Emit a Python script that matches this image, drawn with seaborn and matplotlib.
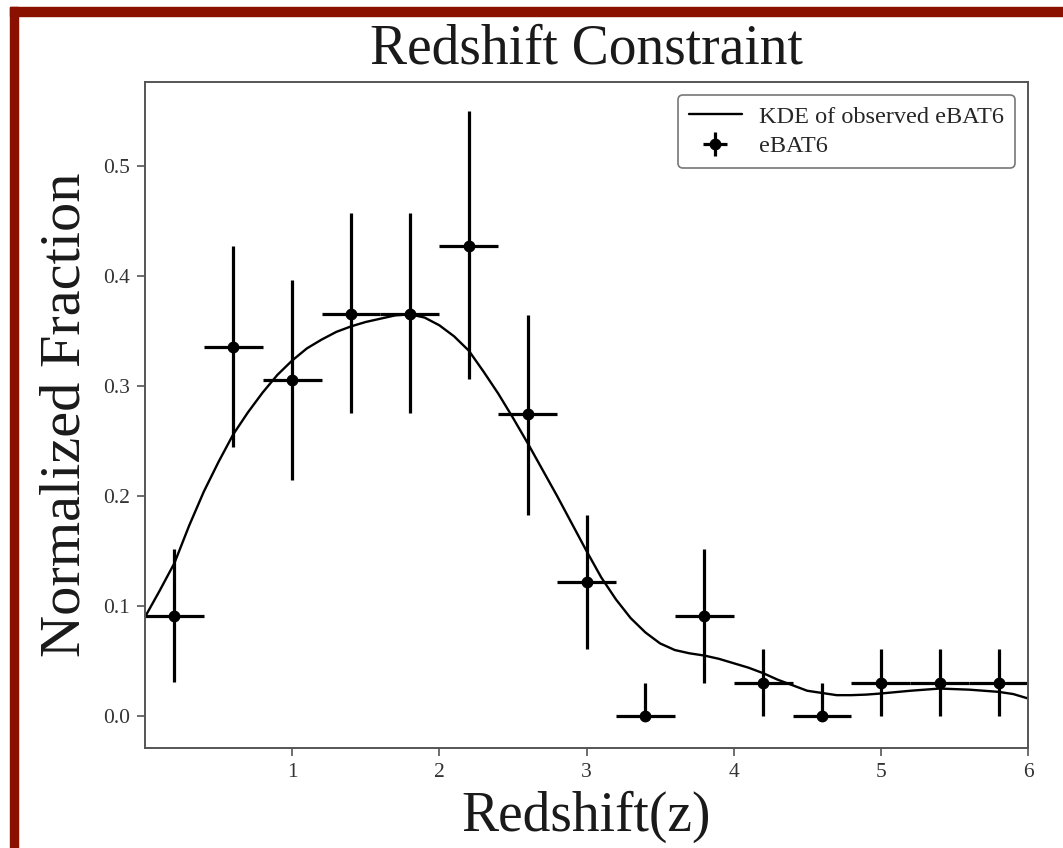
import numpy as np
import pandas as pd
import matplotlib
matplotlib.use("Agg")
import matplotlib.pyplot as plt
from matplotlib.patches import Rectangle
import seaborn as sns

# ---- data ----
bin_centers = [0.2, 0.6, 1.0, 1.4, 1.8, 2.2, 2.6, 3.0, 3.4, 3.8, 4.2, 4.6, 5.0, 5.4, 5.8]
fractions = [0.091, 0.335, 0.305, 0.365, 0.365, 0.427, 0.274, 0.122, 0.0, 0.091, 0.030, 0.0, 0.030, 0.030, 0.030]
err_low = [0.060, 0.091, 0.091, 0.090, 0.090, 0.121, 0.091, 0.061, 0.0, 0.061, 0.030, 0.0, 0.030, 0.030, 0.030]
err_high = [0.061, 0.092, 0.091, 0.092, 0.092, 0.123, 0.090, 0.061, 0.030, 0.061, 0.031, 0.030, 0.031, 0.031, 0.031]
bin_half_width = [0.2] * 15

kde_z = [0.0, 0.1, 0.2, 0.3, 0.4, 0.5, 0.6, 0.7, 0.8, 0.9, 1.0, 1.1, 1.2, 1.3, 1.4, 1.5,
         1.6, 1.7, 1.8, 1.9, 2.0, 2.1, 2.2, 2.3, 2.4, 2.5, 2.6, 2.7, 2.8, 2.9, 3.0, 3.1,
         3.2, 3.3, 3.4, 3.5, 3.6, 3.7, 3.8, 3.9, 4.0, 4.1, 4.2, 4.3, 4.4, 4.5, 4.6, 4.7,
         4.8, 4.9, 5.0, 5.2, 5.4, 5.6, 5.8, 5.9, 6.0]
kde_y = [0.090, 0.114, 0.139, 0.173, 0.204, 0.231, 0.256, 0.276, 0.294, 0.310, 0.323, 0.334,
         0.342, 0.349, 0.354, 0.358, 0.361, 0.364, 0.365, 0.362, 0.355, 0.345, 0.332, 0.313,
         0.293, 0.271, 0.248, 0.224, 0.200, 0.175, 0.150, 0.126, 0.106, 0.089, 0.076, 0.066,
         0.060, 0.057, 0.055, 0.052, 0.048, 0.044, 0.039, 0.033, 0.028, 0.023, 0.021, 0.019,
         0.019, 0.0195, 0.0205, 0.023, 0.025, 0.024, 0.022, 0.020, 0.016]

title = "Redshift Constraint"
xlabel = "Redshift(z)"
ylabel = "Normalized Fraction"
xticks = [1, 2, 3, 4, 5, 6]
yticks = [0.0, 0.1, 0.2, 0.3, 0.4, 0.5]

sns.set_style("ticks")
plt.rcParams["font.family"] = ["Liberation Serif", "DejaVu Serif"]

W, H = 1063, 848
fig = plt.figure(figsize=(W / 100, H / 100), dpi=100)
fig.patch.set_facecolor("white")
ax = fig.add_axes([145 / W, 1 - 748 / H, (1028 - 145) / W, (748 - 82) / H])

kde_df = pd.DataFrame({"z": kde_z, "y": kde_y})
sns.lineplot(data=kde_df, x="z", y="y", ax=ax, color="black", linewidth=1.7,
             label="KDE of observed eBAT6", sort=False)

ax.errorbar(bin_centers, fractions, xerr=bin_half_width, yerr=[err_low, err_high],
            fmt="o", color="black", ms=7.5, elinewidth=2.3, capsize=0, label="eBAT6")

ax.set_xlim(0, 6)
ax.set_ylim(-0.029, 0.576)
ax.set_xticks(xticks)
ax.set_xticklabels([str(t) for t in xticks])
ax.set_yticks(yticks)
ax.set_yticklabels([f"{t:.1f}" for t in yticks])

ax.set_title(title, fontsize=40, pad=13, color="#1a1a1a")
ax.set_xlabel(xlabel, fontsize=40, labelpad=6, color="#1a1a1a")
ax.set_ylabel(ylabel, fontsize=42, labelpad=8, color="#1a1a1a")

for s in ax.spines.values():
    s.set_color("#555555")
    s.set_linewidth(1.4)
ax.tick_params(axis="both", direction="out", length=6, width=1.2, color="#555555",
               labelsize=15.5, labelcolor="#333333", pad=5)

leg = ax.legend(loc="upper right", fontsize=17.5, frameon=True, fancybox=True,
                edgecolor="#555555", borderpad=0.45, handlelength=2.2,
                labelspacing=0.3, handletextpad=0.7, borderaxespad=0,
                bbox_to_anchor=(0.9853, 0.9805))
leg.get_frame().set_linewidth(1.2)

# dark red border (top and left) as in the screenshot
red = "#8a1100"
fig.add_artist(Rectangle((10 / W, 1 - 16 / H), 1 - 10 / W, 9 / H,
                         transform=fig.transFigure, color=red, zorder=10))
fig.add_artist(Rectangle((10 / W, 0), 8 / W, 1 - 7 / H,
                         transform=fig.transFigure, color=red, zorder=10))

fig.savefig("out.png", dpi=100, facecolor="white")
